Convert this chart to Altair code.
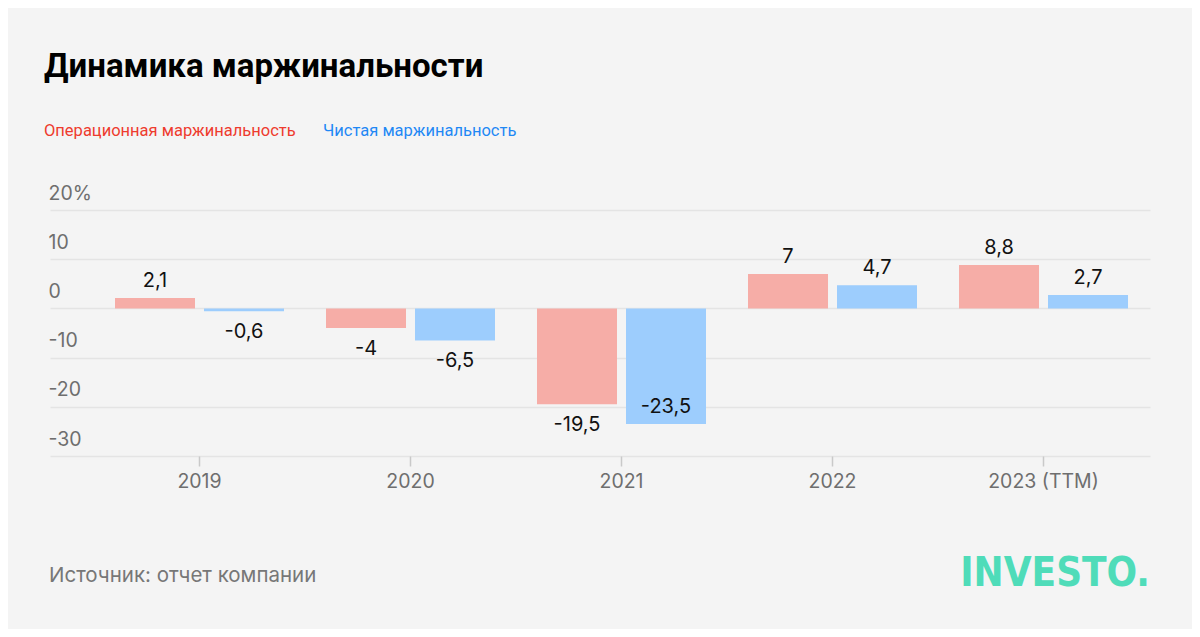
import altair as alt
import pandas as pd

# ---- data ----
years = ["2019", "2020", "2021", "2022", "2023 (TTM)"]
series = ["Операционная маржинальность", "Чистая маржинальность"]
operating = [2.1, -4, -19.5, 7, 8.8]
net = [-0.6, -6.5, -23.5, 4.7, 2.7]
y_ticks = [-30, -20, -10, 0, 10, 20]
title_text = ["Динамика маржинальности"]
source_text = ["Источник: отчет компании"]
logo_text = ["INVESTO."]

bar_colors = ["#f6ada7", "#9dcdfd"]
legend_colors = ["#ee3b2e", "#1f88f4"]

rows = []
for s, vals in zip(series, [operating, net]):
    for yr, v in zip(years, vals):
        rows.append({"year": yr, "series": s, "value": v,
                     "label": f"{v:g}".replace(".", ",")})
df = pd.DataFrame(rows)

W, H = 1100, 246
NUM_FONT = "Inter"
TXT_FONT = "Roboto"

x_enc = alt.X(
    "year:N", sort=years, title=None,
    scale=alt.Scale(paddingInner=0, paddingOuter=0.1066, align=0.978),
    axis=alt.Axis(labelAngle=0, labelFont=NUM_FONT, labelFontSize=19.5,
                  labelColor="#6e6e6e", labelPadding=6, domain=False,
                  ticks=True, tickSize=10, tickColor="#c9c9c9", tickWidth=1.5,
                  grid=False),
)
xoff = alt.XOffset("series:N", sort=series,
                   scale=alt.Scale(paddingInner=0.101, paddingOuter=0.236))
y_enc = alt.Y(
    "value:Q", title=None,
    scale=alt.Scale(domain=[-30, 20], nice=False, zero=False),
    axis=alt.Axis(values=y_ticks, domain=False, ticks=False, tickSize=0,
                  grid=True, gridColor="#e4e4e4", gridWidth=1.5,
                  labelAlign="left", labelPadding=2, labelBaseline="alphabetic",
                  labelOffset=-11, labelFont=NUM_FONT, labelFontSize=19.5,
                  labelColor="#6e6e6e",
                  labelExpr="datum.value == 20 ? '20%' : '' + datum.value"),
)

base = alt.Chart(df)

bars = base.mark_bar().encode(
    x=x_enc, xOffset=xoff, y=y_enc,
    color=alt.Color("series:N", sort=series,
                    scale=alt.Scale(domain=series, range=bar_colors), legend=None),
)

txt_kw = dict(font=NUM_FONT, fontSize=20, color="#111111", baseline="alphabetic")
lab_pos = base.mark_text(dy=-11, **txt_kw).encode(
    x=x_enc, xOffset=xoff, y=y_enc, text="label:N"
).transform_filter("datum.value >= 0")
lab_neg = base.mark_text(dy=27, **txt_kw).encode(
    x=x_enc, xOffset=xoff, y=y_enc, text="label:N"
).transform_filter("datum.value < 0 && datum.value > -22")
lab_in = base.mark_text(dy=-11, **txt_kw).encode(
    x=x_enc, xOffset=xoff, y=y_enc, text="label:N"
).transform_filter("datum.value <= -22")

title = alt.Chart(pd.DataFrame({"t": title_text})).mark_text(
    font=TXT_FONT, fontSize=33, fontWeight="bold", color="#000000",
    align="left", baseline="alphabetic"
).encode(x=alt.value(-6), y=alt.value(-133), text="t:N")

leg1 = alt.Chart(pd.DataFrame({"t": series[:1]})).mark_text(
    font=TXT_FONT, fontSize=16.5, color=legend_colors[0],
    align="left", baseline="alphabetic"
).encode(x=alt.value(-6), y=alt.value(-74), text="t:N")

leg2 = alt.Chart(pd.DataFrame({"t": series[1:]})).mark_text(
    font=TXT_FONT, fontSize=16.5, color=legend_colors[1],
    align="left", baseline="alphabetic"
).encode(x=alt.value(273), y=alt.value(-74), text="t:N")

source = alt.Chart(pd.DataFrame({"t": source_text})).mark_text(
    font=NUM_FONT, fontSize=20.5, color="#777777",
    align="left", baseline="alphabetic"
).encode(x=alt.value(-1), y=alt.value(372), text="t:N")

logo = alt.Chart(pd.DataFrame({"t": logo_text})).mark_text(
    font="'DejaVu Sans Condensed', sans-serif",
    fontSize=40, fontWeight="bold", color="#4fdcb9",
    align="right", baseline="alphabetic"
).encode(x=alt.value(1100), y=alt.value(376), text="t:N")

chart = alt.layer(
    bars, lab_pos, lab_neg, lab_in, title, leg1, leg2, source, logo
).properties(
    width=W, height=H,
    autosize=alt.AutoSizeParams(type="none"),
    padding={"left": 42, "top": 202, "right": 42, "bottom": 173},
    background="#f4f4f4",
).configure_view(stroke=None)

chart.save("out.html", embed_options={"renderer": "svg", "actions": False})
